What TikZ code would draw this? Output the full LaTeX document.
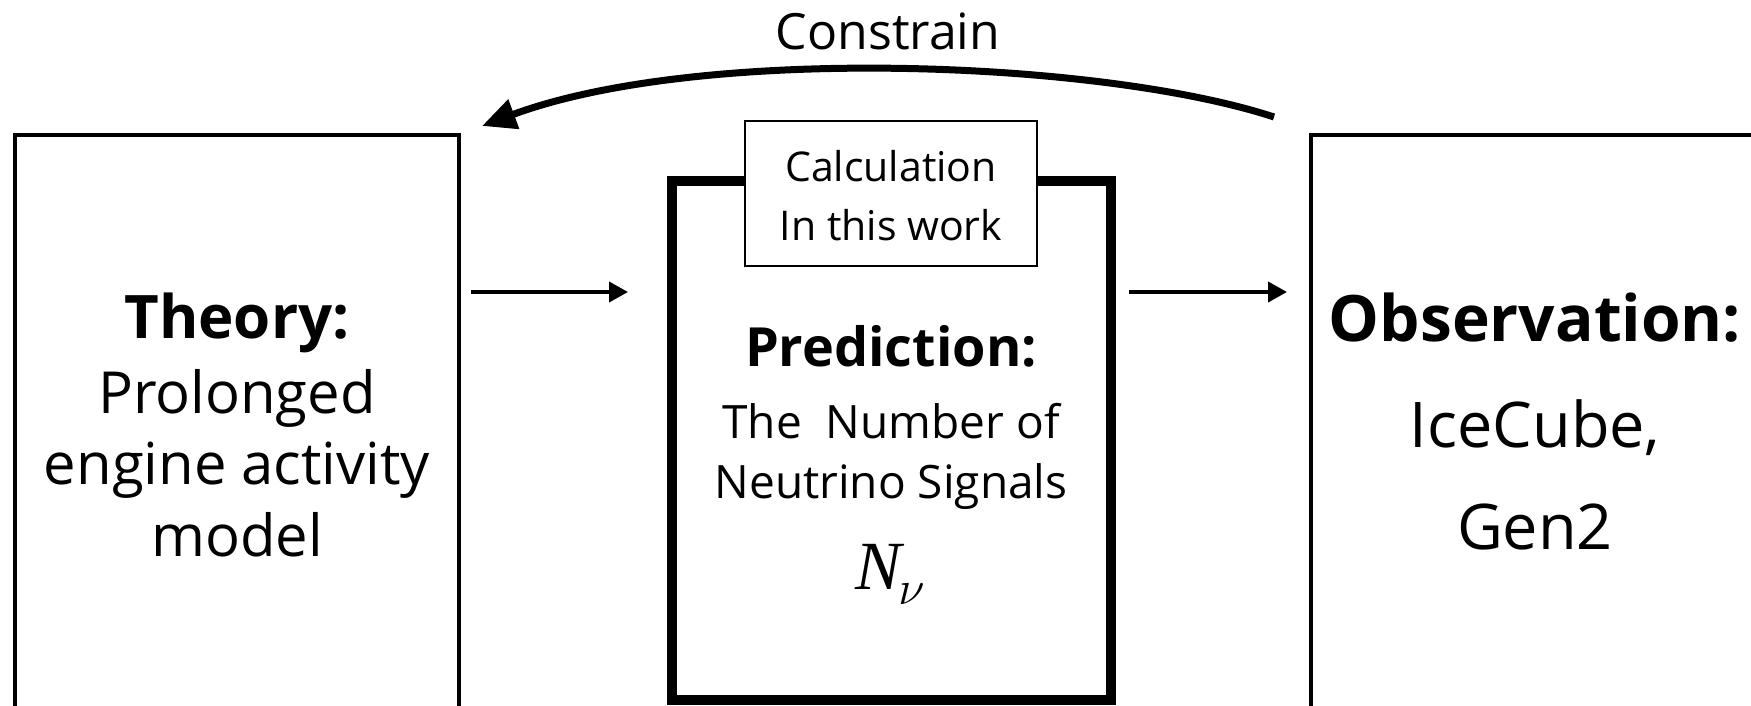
\RequirePackage{fix-cm}
\documentclass[tikz,border=0pt]{standalone}
\usepackage{fontspec}
\setmainfont{Open Sans}
\newfontfamily\timesf{Liberation Serif}
\usetikzlibrary{arrows.meta}
\begin{document}
\begin{tikzpicture}[x=1pt,y=-1pt,
  box/.style={draw, line width=3.5pt, outer sep=0pt, inner sep=0pt, anchor=north west},
  predbox/.style={draw, line width=10pt, outer sep=0pt, inner sep=0pt, anchor=north west},
  calcbox/.style={draw, fill=white, line width=2pt, outer sep=0pt, inner sep=0pt},
  big/.style={anchor=base, inner sep=0pt, font=\fontsize{58}{70}\selectfont},
  bigb/.style={anchor=base, inner sep=0pt, font=\fontsize{60}{70}\selectfont\bfseries},
  obsb/.style={anchor=base, inner sep=0pt, font=\fontsize{64}{70}\selectfont\bfseries},
  obst/.style={anchor=base, inner sep=0pt, font=\fontsize{63}{70}\selectfont},
  predb/.style={anchor=base, inner sep=0pt, font=\fontsize{54}{60}\selectfont\bfseries},
  predt/.style={anchor=base, inner sep=0pt, font=\fontsize{46}{55}\selectfont},
  calct/.style={anchor=base, inner sep=0pt, font=\fontsize{41}{50}\selectfont},
  thinarrow/.style={line width=4pt, -{Triangle[length=19pt,width=20pt]}},
  thickarrow/.style={line width=7pt, -{Triangle[length=34pt,width=30pt]}}
]
\useasboundingbox (0,0) rectangle (1751,706);
\clip (0,0) rectangle (1751,706);
\fill[white] (0,0) rectangle (1751,706);

% boxes
\node[box, minimum width=444pt, minimum height=700pt] (theory) at (15,135) {};
\node[predbox, minimum width=439pt, minimum height=519pt] (pred) at (672,181) {};
\node[box, minimum width=600pt, minimum height=700pt] (obs) at (1311,135) {};
\node[calcbox, anchor=north west, minimum width=292pt, minimum height=145pt] (calc) at (745,121) {};

% texts
\node[bigb] (t1) at (237,338) {Theory:};
\node[big] (t2) at (237,413) {Prolonged};
\node[big] (t3) at (237,484) {engine activity};
\node[big] (t4) at (237,556) {model};

\node[calct] (c1) at (891,181) {Calculation};
\node[calct] (c2) at (891,240) {In this work};

\node[predb] (p1) at (891,366) {Prediction:};
\node[predt] (p2) at (891,438) {The~~Number of};
\node[predt] (p3) at (891,498) {Neutrino Signals};
\node[anchor=base, inner sep=0pt] (p4) at (890,589) {\timesf\itshape\fontsize{69}{75}\selectfont N\kern-3pt\raisebox{-15pt}{\fontsize{48}{55}\selectfont$\nu$}};

\node[obsb] (o1) at (1535,341) {Observation:};
\node[obst] (o2) at (1535,447) {IceCube,};
\node[obst] (o3) at (1535,549) {Gen2};

\node[anchor=base, inner sep=0pt, font=\fontsize{50}{60}\selectfont] (lab) at (888,50) {Constrain};

% connectors
\coordinate (row) at (0,292);
\draw[thinarrow] ([xshift=12pt]theory.east |- row) -- ([xshift=-44pt]pred.west |- row);
\draw[thinarrow] ([xshift=18pt]pred.east |- row) -- ([xshift=-24pt]obs.west |- row);

\coordinate (cs) at ([shift={(-37,-18)}]obs.north west);
\coordinate (ce) at ([shift={(23,-9)}]theory.north east);
\draw[thickarrow] (cs) .. controls (1100,60) and (700,45) .. (ce);
\end{tikzpicture}
\end{document}
